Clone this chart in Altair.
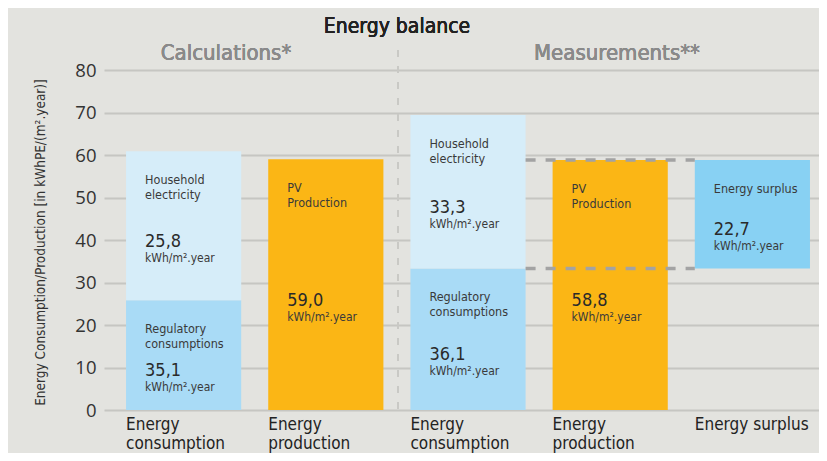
import altair as alt
import pandas as pd

FONT = "DejaVu Sans Condensed, Liberation Sans Narrow, sans-serif"
NUM_FONT = "Open Sans, Noto Sans, sans-serif"

# ---- data -------------------------------------------------------------
bar_keys = ["calc_cons", "calc_prod", "meas_cons", "meas_prod", "meas_surplus"]
x_labels = ["Energy\nconsumption", "Energy\nproduction", "Energy\nconsumption",
            "Energy\nproduction", "Energy surplus"]

seg_bar = ["calc_cons", "calc_cons", "calc_prod", "meas_cons", "meas_cons",
           "meas_prod", "meas_surplus"]
seg_start = [0, 25.8, 0, 0, 33.3, 0, 33.3]
seg_end = [25.8, 60.9, 59.0, 33.3, 69.4, 58.8, 58.8]
seg_kind = ["regulatory", "household", "pv", "regulatory", "household", "pv", "surplus"]
seg_name = ["Regulatory\nconsumptions", "Household\nelectricity", "PV\nProduction",
            "Regulatory\nconsumptions", "Household\nelectricity", "PV\nProduction",
            "Energy surplus"]
seg_value = ["35,1", "25,8", "59,0", "36,1", "33,3", "58,8", "22,7"]
unit_text = "kWh/m².year"

dash_levels = [58.8, 33.3]

kind_domain = ["regulatory", "household", "pv", "surplus"]
kind_colors = ["#a9dbf6", "#d6edf9", "#fbb615", "#88d1f3"]

title_text = "Energy balance"
group_titles = ["Calculations*", "Measurements**"]
y_title = "Energy Consumption/Production [in kWhPE/(m².year)]"
y_ticks = [0, 10, 20, 30, 40, 50, 60, 70, 80]

# ---- tables -----------------------------------------------------------
seg_df = pd.DataFrame({
    "bar": seg_bar, "start": seg_start, "end": seg_end, "kind": seg_kind,
    "name": seg_name, "value": seg_value, "unit": unit_text,
})
lab_df = pd.DataFrame({"bar": bar_keys, "label": x_labels})
dash_df = pd.DataFrame({"level": dash_levels, "from": "meas_cons", "to": "meas_surplus"})

W, H = 715, 340

xscale = alt.Scale(domain=bar_keys, range=[0, 728], paddingInner=0.19, paddingOuter=0.155)
yscale = alt.Scale(domain=[0, 80], nice=False)

base = alt.Chart(seg_df)

bars = base.mark_bar(cornerRadius=0).encode(
    x=alt.X("bar:N", scale=xscale, axis=None),
    y=alt.Y("start:Q", scale=yscale,
            axis=alt.Axis(values=y_ticks, title=y_title, grid=True, ticks=False,
                          domain=False, labelPadding=8, labelFont=NUM_FONT,
                          labelFontSize=18.5, labelColor="#333333",
                          gridColor="#c6c6c2", gridWidth=2,
                          titleFont=FONT, titleFontSize=13.5, titleFontWeight="normal",
                          titleColor="#333333", titleX=-64, titleY=172,
                          titleAlign="center", titleBaseline="middle", titleAngle=270)),
    y2="end:Q",
    color=alt.Color("kind:N", scale=alt.Scale(domain=kind_domain, range=kind_colors),
                    legend=None),
)

dashes = alt.Chart(dash_df).mark_rule(color="#a3a3a3", strokeWidth=3.5,
                                      strokeDash=[10, 10]).encode(
    x=alt.X("from:N", scale=xscale, bandPosition=1),
    x2=alt.X2("to:N", bandPosition=0),
    y=alt.Y("level:Q", scale=yscale),
)

names = base.mark_text(font=FONT, fontSize=12.5, color="#3a3a3a", align="left",
                       baseline="alphabetic", dx=19, dy=33, lineHeight=15,
                       lineBreak="\n").encode(
    x=alt.X("bar:N", scale=xscale, bandPosition=0),
    y=alt.Y("end:Q", scale=yscale),
    text="name:N",
)

mid = base.transform_calculate(mid="(datum.start + datum.end) / 2")
values = mid.mark_text(font=FONT, fontSize=18, color="#2a2a2a", align="left",
                       baseline="alphabetic", dx=19, dy=21).encode(
    x=alt.X("bar:N", scale=xscale, bandPosition=0),
    y=alt.Y("mid:Q", scale=yscale),
    text="value:N",
)
units = mid.mark_text(font=FONT, fontSize=12, color="#3a3a3a", align="left",
                      baseline="alphabetic", dx=19, dy=36).encode(
    x=alt.X("bar:N", scale=xscale, bandPosition=0),
    y=alt.Y("mid:Q", scale=yscale),
    text="unit:N",
)

xlabels = alt.Chart(lab_df).mark_text(font=FONT, fontSize=17, color="#222222",
                                      align="left", baseline="alphabetic",
                                      lineHeight=18.5, lineBreak="\n").encode(
    x=alt.X("bar:N", scale=xscale, bandPosition=0),
    y=alt.value(360),
    text="label:N",
)

divider = alt.Chart(lab_df).mark_rule(color="#c9c9c5", strokeWidth=1.5,
                                      strokeDash=[7, 9]).encode(
    x=alt.value(294), y=alt.value(-20), y2=alt.value(H),
)

title = alt.Chart(lab_df).mark_text(font=FONT, fontSize=21, color="#222222",
                                    align="center", baseline="alphabetic").encode(
    x=alt.value(293), y=alt.value(-37), text=alt.value(title_text))
sub1 = alt.Chart(lab_df).mark_text(font=FONT, fontSize=22, color="#8a8a8a",
                                   align="center", baseline="alphabetic").encode(
    x=alt.value(122), y=alt.value(-10), text=alt.value(group_titles[0]))
sub2 = alt.Chart(lab_df).mark_text(font=FONT, fontSize=22, color="#8a8a8a",
                                   align="center", baseline="alphabetic").encode(
    x=alt.value(513), y=alt.value(-10), text=alt.value(group_titles[1]))

chart = alt.layer(bars, dashes, divider, names, values, units, xlabels,
                  title, sub1, sub2).properties(
    width=W, height=H,
    autosize=alt.AutoSizeParams(type="none"),
    padding={"left": 96, "top": 62, "right": 0, "bottom": 43},
    background="#e3e3df",
).configure_view(stroke=None)

chart.save("out.html", embed_options={"renderer": "svg", "actions": False})
